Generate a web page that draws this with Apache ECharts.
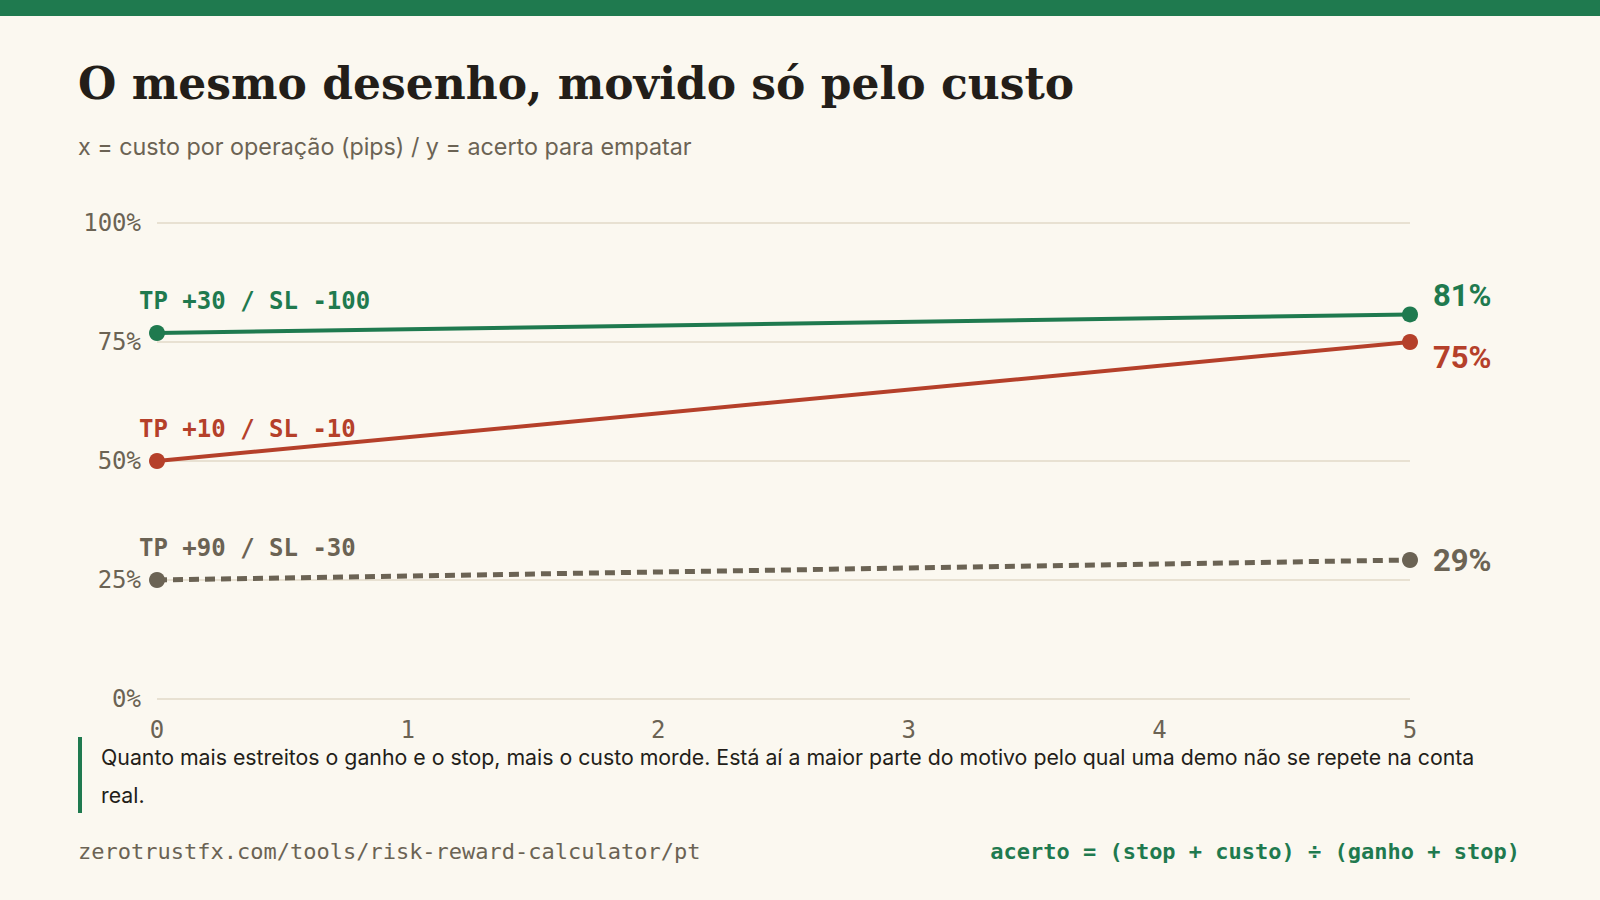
<!DOCTYPE html>
<html>
<head>
<meta charset="utf-8">
<script src="https://cdn.jsdelivr.net/npm/echarts@6/dist/echarts.min.js"></script>
<style>
  html, body { margin: 0; padding: 0; background: #fbf8f0; }
  #chart { width: 1600px; height: 900px; }
</style>
</head>
<body>
<div id="chart"></div>
<script>
// custo por operação (pips) nas pontas de cada linha
var costs = [0, 5];
var setupNames = ["TP +30 / SL -100", "TP +10 / SL -10", "TP +90 / SL -30"];
var wideStop = [76.9, 80.8];
var tightBoth = [50, 75];
var wideTarget = [25, 29.2];
var yTicks = [0, 25, 50, 75, 100];
var xTicks = [0, 1, 2, 3, 4, 5];

var GREEN = "#1f7a4f", RED = "#b5402a", GRAY = "#6b6354", INK = "#231e19";
var MONO = "'DejaVu Sans Mono', monospace";
var SANS = "Inter, 'Noto Sans', sans-serif";

function pairs(values)
{
    return costs.map(function(c, i) { return [c, values[i]]; });
}

function makeSeries(name, values, color, dashed, endDy)
{
    var data = pairs(values).map(function(p, i) {
        var item = { value: p };
        if (i == 0) {
            item.label = {
                show: true, position: "inside", align: "left", verticalAlign: "middle",
                offset: [-18, -32], formatter: name,
                fontFamily: MONO, fontWeight: "bold", fontSize: 24, color: color
            };
        } else {
            item.label = {
                show: true, position: "inside", align: "left", verticalAlign: "middle",
                offset: [23, endDy], formatter: Math.round(p[1]) + "%",
                fontFamily: "Roboto, sans-serif", fontWeight: "bold", fontSize: 31, color: color
            };
        }
        return item;
    });

    return {
        type: "line", name: name, data: data,
        symbol: "circle", symbolSize: 16, silent: true,
        itemStyle: { color: color },
        lineStyle: { color: color, width: dashed ? 5 : 4, type: dashed ? [10, 6] : "solid" },
        emphasis: { disabled: true }
    };
}

var chart = echarts.init(document.getElementById("chart"), null, { renderer: "svg" });

chart.setOption({
    backgroundColor: "#fbf8f0",
    animation: false,
    grid: { left: 157, right: 190, top: 223, bottom: 201 },
    xAxis: {
        type: "value", min: xTicks[0], max: xTicks[xTicks.length - 1], interval: 1,
        axisLine: { show: false }, axisTick: { show: false }, splitLine: { show: false },
        axisLabel: { margin: 19, fontFamily: MONO, fontSize: 24, color: GRAY }
    },
    yAxis: {
        type: "value", min: yTicks[0], max: yTicks[yTicks.length - 1], interval: 25,
        axisLine: { show: false }, axisTick: { show: false },
        splitLine: { lineStyle: { color: "#e2dac8", width: 1.5 } },
        axisLabel: { margin: 16, fontFamily: MONO, fontSize: 24, color: GRAY, formatter: "{value}%" }
    },
    series: [
        makeSeries(setupNames[2], wideTarget, GRAY, true, 0),
        makeSeries(setupNames[1], tightBoth, RED, false, 15),
        makeSeries(setupNames[0], wideStop, GREEN, false, -19)
    ],
    graphic: [
        { type: "rect", shape: { x: 0, y: 0, width: 1600, height: 16 }, style: { fill: GREEN } },
        {
            type: "text", x: 78, y: 83,
            style: { text: "O mesmo desenho, movido só pelo custo", fill: INK, verticalAlign: "middle",
                     font: "bold 44px 'DejaVu Serif', serif" }
        },
        {
            type: "text", x: 78, y: 146,
            style: { text: "x = custo por operação (pips) / y = acerto para empatar", fill: GRAY,
                     verticalAlign: "middle", font: "23.3px " + SANS }
        },
        { type: "rect", shape: { x: 78, y: 737, width: 4, height: 76 }, style: { fill: GREEN } },
        {
            type: "text", x: 101, y: 738,
            style: {
                text: "Quanto mais estreitos o ganho e o stop, mais o custo morde. Está aí a maior parte do motivo pelo qual uma demo não se repete na conta\nreal.",
                fill: INK, verticalAlign: "top", font: "21.3px " + SANS, lineHeight: 38
            }
        },
        {
            type: "text", x: 78, y: 851,
            style: { text: "zerotrustfx.com/tools/risk-reward-calculator/pt", fill: GRAY,
                     verticalAlign: "middle", font: "22px " + MONO }
        },
        {
            type: "text", x: 1520, y: 851,
            style: { text: "acerto = (stop + custo) ÷ (ganho + stop)", fill: GREEN, align: "right",
                     verticalAlign: "middle", font: "bold 22px " + MONO }
        }
    ]
});
</script>
</body>
</html>
